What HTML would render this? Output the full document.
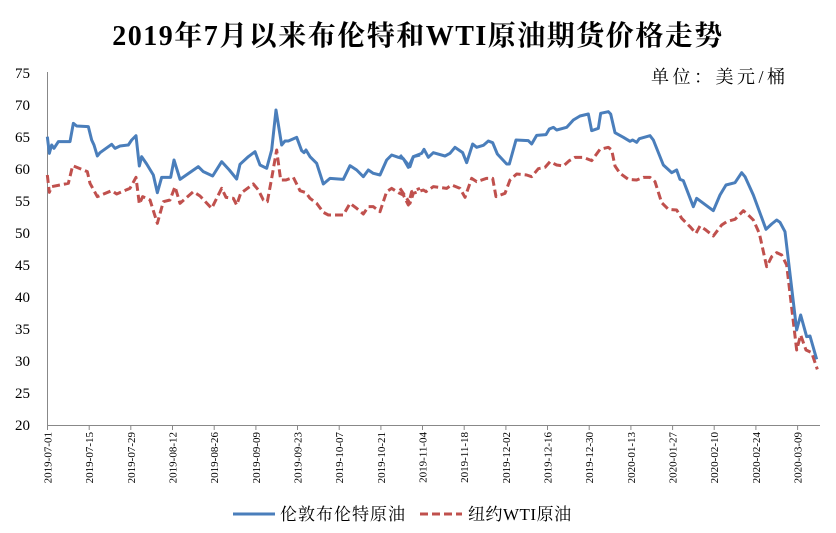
<!DOCTYPE html>
<html><head><meta charset="utf-8"><style>
body{margin:0;background:#fff;}
svg{display:block;}
</style></head><body>
<svg width="836" height="533" xmlns="http://www.w3.org/2000/svg" font-family="Liberation Serif, Noto Serif CJK SC, serif">
<rect width="836" height="533" fill="#fff"/>
<text x="418" y="45" text-anchor="middle" font-size="28" letter-spacing="1.5" font-weight="bold" font-family="Liberation Serif, Noto Serif CJK SC, serif">2019年7月以来布伦特和WTI原油期货价格走势</text>
<text x="651" y="83" font-size="18" letter-spacing="3.5" font-family="Liberation Serif, Noto Serif CJK SC, serif">单位：美元/桶</text>
<g font-size="15" text-anchor="end" fill="#000">
<text x="30" y="78">75</text><text x="30" y="110">70</text><text x="30" y="142">65</text><text x="30" y="174">60</text><text x="30" y="206">55</text><text x="30" y="238">50</text><text x="30" y="270">45</text><text x="30" y="302">40</text><text x="30" y="334">35</text><text x="30" y="366">30</text><text x="30" y="398">25</text><text x="30" y="430">20</text>
</g>
<line x1="47.5" y1="72" x2="47.5" y2="425" stroke="#888" stroke-width="1"/>
<line x1="47" y1="425.5" x2="820" y2="425.5" stroke="#888" stroke-width="1"/>
<path stroke="#888" stroke-width="1" d="M47.5,425v5M89.2,425v5M130.8,425v5M172.5,425v5M214.2,425v5M255.9,425v5M297.5,425v5M339.2,425v5M380.9,425v5M422.5,425v5M464.2,425v5M505.9,425v5M547.5,425v5M589.2,425v5M630.9,425v5M672.6,425v5M714.2,425v5M755.9,425v5M797.6,425v5"/>
<g font-size="11" text-anchor="end">
<text transform="translate(51.5,432) rotate(-90)">2019-07-01</text>
<text transform="translate(93.2,432) rotate(-90)">2019-07-15</text>
<text transform="translate(134.8,432) rotate(-90)">2019-07-29</text>
<text transform="translate(176.5,432) rotate(-90)">2019-08-12</text>
<text transform="translate(218.2,432) rotate(-90)">2019-08-26</text>
<text transform="translate(259.9,432) rotate(-90)">2019-09-09</text>
<text transform="translate(301.5,432) rotate(-90)">2019-09-23</text>
<text transform="translate(343.2,432) rotate(-90)">2019-10-07</text>
<text transform="translate(384.9,432) rotate(-90)">2019-10-21</text>
<text transform="translate(426.5,432) rotate(-90)">2019-11-04</text>
<text transform="translate(468.2,432) rotate(-90)">2019-11-18</text>
<text transform="translate(509.9,432) rotate(-90)">2019-12-02</text>
<text transform="translate(551.5,432) rotate(-90)">2019-12-16</text>
<text transform="translate(593.2,432) rotate(-90)">2019-12-30</text>
<text transform="translate(634.9,432) rotate(-90)">2020-01-13</text>
<text transform="translate(676.6,432) rotate(-90)">2020-01-27</text>
<text transform="translate(718.2,432) rotate(-90)">2020-02-10</text>
<text transform="translate(759.9,432) rotate(-90)">2020-02-24</text>
<text transform="translate(801.6,432) rotate(-90)">2020-03-09</text>
</g>
<g transform="translate(0,60) scale(0.33333)" fill="none" stroke-linejoin="round">
<polyline stroke="#c0504d" stroke-width="9" stroke-dasharray="24,12" points="142,345 148,397 155,380 205,370 218,317 262,335 270,370 292,410 335,392 350,402 390,385 408,352 418,432 428,410 450,420 472,490 490,425 510,420 525,380 540,430 580,395 600,408 635,445 665,385 678,412 700,415 710,435 722,400 760,372 775,390 790,420 802,425 815,355 830,270 842,360 858,360 880,352 900,392 918,398 930,415 950,430 970,457 985,465 1010,465 1030,465 1050,430 1070,445 1090,462 1105,440 1120,440 1140,455 1160,395 1175,385 1195,398 1210,405 1225,435 1235,395 1260,385"/>
<polyline stroke="#4a7ebb" stroke-width="9" points="142,230 148,280 155,255 162,265 175,245 210,245 220,190 230,198 265,200 275,240 282,255 292,288 300,278 335,253 345,265 360,258 385,255 395,240 408,227 418,318 425,290 440,312 460,345 472,398 485,352 512,352 522,300 540,358 595,320 610,335 638,348 665,305 688,330 710,357 720,313 745,290 765,275 780,315 800,325 815,270 828,150 845,255 855,243 865,243 890,232 905,272 912,278 918,270 930,290 950,310 970,372 990,355 1030,358 1050,317 1070,330 1090,350 1105,330 1120,340 1140,345 1160,300 1175,285 1195,292 1210,296 1225,322 1240,290 1260,285"/>
</g>
<g transform="translate(410,60) scale(0.33333)" fill="none" stroke-linejoin="round">
<polyline stroke="#c0504d" stroke-width="9" stroke-dasharray="24,12" points="-30,385 0,430 10,400 40,390 48,395 70,380 110,385 125,375 150,385 165,412 185,355 200,365 230,355 248,355 258,410 285,400 300,360 320,342 350,345 365,350 385,326 405,322 420,305 440,315 460,318 478,302 495,292 520,292 545,302 570,268 595,262 605,270 615,318 630,340 655,358 680,360 700,352 720,352 735,365 755,428 775,448 800,450 815,475 840,500 858,520 870,498 885,508 910,528 935,495 950,485 975,478 1000,452 1015,465 1030,480 1048,520 1070,620 1085,590 1100,578 1115,585 1130,615 1160,870 1172,825 1188,870 1205,878 1222,928"/>
<polyline stroke="#4a7ebb" stroke-width="9" points="-30,285 0,320 10,290 35,280 42,268 55,292 70,278 105,288 120,280 135,262 158,278 170,308 188,252 200,262 220,256 235,243 248,248 262,282 290,312 298,312 318,240 355,242 365,252 380,226 408,224 418,207 430,202 440,210 470,202 490,180 510,168 535,162 545,212 565,205 572,160 595,155 602,162 615,218 640,232 660,244 668,240 680,247 688,236 720,227 730,240 760,315 785,338 800,330 810,358 820,362 850,440 860,415 910,452 930,405 948,375 975,368 995,338 1005,350 1030,405 1068,508 1085,492 1100,480 1110,487 1125,515 1160,810 1172,765 1190,830 1200,828 1220,898"/>
</g>
<line x1="233" y1="514" x2="275" y2="514" stroke="#4a7ebb" stroke-width="3"/>
<text x="280" y="520" font-size="17" letter-spacing="1" font-family="Liberation Serif, Noto Serif CJK SC, serif">伦敦布伦特原油</text>
<line x1="420" y1="514" x2="462" y2="514" stroke="#c0504d" stroke-width="3" stroke-dasharray="8,4"/>
<text x="468" y="520" font-size="17" letter-spacing="0.5" font-family="Liberation Serif, Noto Serif CJK SC, serif">纽约WTI原油</text>
</svg>
</body></html>
